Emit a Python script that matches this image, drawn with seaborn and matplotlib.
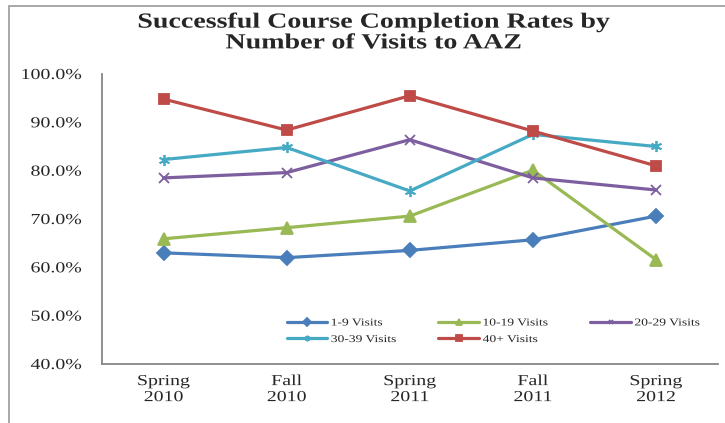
import pandas as pd
import matplotlib.pyplot as plt
import seaborn as sns
from matplotlib.ticker import FuncFormatter, FixedLocator
from matplotlib.patches import Rectangle
from matplotlib.patheffects import AbstractPathEffect
from matplotlib.transforms import Affine2D

terms = ['Spring\n2010', 'Fall\n2010', 'Spring\n2011', 'Fall\n2011', 'Spring\n2012']
visits_1_9 = [63.0, 62.0, 63.5, 65.7, 70.6]
visits_10_19 = [65.9, 68.2, 70.6, 80.1, 61.6]
visits_20_29 = [78.5, 79.6, 86.4, 78.5, 76.0]
visits_30_39 = [82.3, 84.8, 75.8, 87.5, 85.0]
visits_40_plus = [94.8, 88.4, 95.5, 88.2, 81.0]

series = {
    '1-9 Visits': visits_1_9,
    '10-19 Visits': visits_10_19,
    '20-29 Visits': visits_20_29,
    '30-39 Visits': visits_30_39,
    '40+ Visits': visits_40_plus,
}


# the original chart text is wider than Times, so stretch glyphs horizontally
class StretchX(AbstractPathEffect):
    def __init__(self, sx, anchor='center'):
        super().__init__()
        self.sx = sx
        self.anchor = anchor

    def draw_path(self, renderer, gc, tpath, affine, rgbFace=None):
        ext = tpath.get_extents()
        if self.anchor == 'right':
            cx = ext.x1
        elif self.anchor == 'left':
            cx = ext.x0
        else:
            cx = (ext.x0 + ext.x1) / 2
        t = Affine2D().translate(-cx, 0).scale(self.sx, 1).translate(cx, 0) + affine
        renderer.draw_path(gc, tpath, t, rgbFace)


SX = 1.3

sns.set_style('white')
plt.rcParams['font.family'] = ['Liberation Serif', 'DejaVu Serif']

colors = {'1-9 Visits': '#4A7EBB', '10-19 Visits': '#98B954', '20-29 Visits': '#7D5FA0',
          '30-39 Visits': '#46AAC5', '40+ Visits': '#BE4B48'}
markers = {'1-9 Visits': 'D', '10-19 Visits': '^', '20-29 Visits': 'x',
           '30-39 Visits': (6, 2, 0), '40+ Visits': 's'}
msizes = {'1-9 Visits': 7.5, '10-19 Visits': 8.5, '20-29 Visits': 7,
          '30-39 Visits': 8, '40+ Visits': 7.5}

fig = plt.figure(figsize=(7.25, 4.23), dpi=100)
ax = fig.add_axes([0.1407, 0.1395, 0.849, 0.6856])

# one lineplot per series so filled and line markers can be mixed
for name, vals in series.items():
    d = pd.DataFrame({'term': range(len(vals)), 'rate': vals})
    sns.lineplot(data=d, x='term', y='rate', color=colors[name], marker=markers[name],
                 linewidth=2.3, markersize=msizes[name], markeredgewidth=1.3,
                 markeredgecolor=colors[name], label=name, ax=ax)

ax.set_xlim(-0.5, 4.5)
ax.set_ylim(40, 100)
ax.set_yticks(range(40, 101, 10))
ax.yaxis.set_major_formatter(FuncFormatter(lambda v, p: f'{v:.1f}%'))
ax.set_xticks(range(5))
ax.set_xticklabels(terms)
ax.xaxis.set_minor_locator(FixedLocator([-0.5, 0.5, 1.5, 2.5, 3.5, 4.5]))
ax.tick_params(axis='x', which='major', length=0, pad=8, labelsize=11)
ax.tick_params(axis='x', which='minor', length=4, color='#868686', direction='out')
ax.tick_params(axis='y', length=4.3, color='#868686', direction='out', labelsize=11, pad=10.5)
ax.set_xlabel('')
ax.set_ylabel('')
for s in ['top', 'right']:
    ax.spines[s].set_visible(False)
for s in ['left', 'bottom']:
    ax.spines[s].set_color('#868686')
    ax.spines[s].set_linewidth(1.3)
for lab in ax.get_xticklabels():
    lab.set_linespacing(1.3)
    lab.set_path_effects([StretchX(SX, 'center')])
for lab in ax.get_yticklabels():
    lab.set_path_effects([StretchX(SX, 'right')])

# legend filled row by row like the original (matplotlib fills by column)
handles, labels = ax.get_legend_handles_labels()
order = [0, 3, 1, 4, 2]
leg = ax.legend([handles[i] for i in order], [labels[i] for i in order], ncol=3,
                loc='upper left', bbox_to_anchor=(0.300, 0.158), borderaxespad=0,
                borderpad=0, frameon=False, fontsize=7.5, handlelength=3.9,
                markerscale=0.5, columnspacing=5.5, handletextpad=0.35,
                labelspacing=0.7)
for t in leg.get_texts():
    t.set_path_effects([StretchX(SX, 'left')])

title = fig.text(0.515, 0.922, 'Successful Course Completion Rates by\nNumber of Visits to AAZ',
                 ha='center', va='center', fontsize=15.5, fontweight='bold', linespacing=1.05)
title.set_path_effects([StretchX(1.3, 'center')])

# outer chart frame (left and top edges visible)
fig.patches.append(Rectangle((0.0125, -0.05), 1.1, 1.035, transform=fig.transFigure,
                             fill=False, edgecolor='#9a9a9a', linewidth=1.2))

fig.savefig('out.png', dpi=100)
